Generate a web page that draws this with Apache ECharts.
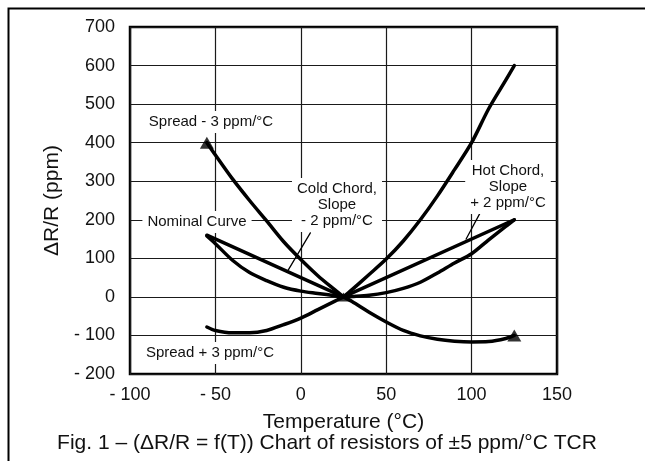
<!DOCTYPE html>
<html>
<head>
<meta charset="utf-8">
<script src="https://cdn.jsdelivr.net/npm/echarts@6/dist/echarts.min.js"></script>
<style>
  html, body { margin: 0; padding: 0; background: #fff; }
  #main { width: 645px; height: 461px; }
</style>
</head>
<body>
<div id="main"></div>
<script>
// temperatures (°C) for the cold / hot side of each curve
const tempCold = [-55, -50, -40, -30, -20, -10, 0, 10, 20, 25]
const tempHot = [25, 30, 40, 50, 60, 70, 80, 90, 100, 110, 120, 125]

// Spread - 3 ppm/°C (top left branch) and steep hot branch
const spreadMinusCold = [400, 368, 306, 250, 197, 143, 97, 55, 18, 0]
const spreadMinusHot = [0, 19, 58, 98, 145, 200, 262, 330, 400, 488, 562, 600]

// nominal curve
const nominalCold = [158, 138, 95, 63, 42, 25, 15, 9, 3, 0]
const nominalHot = [0, 1, 4, 11, 22, 38, 62, 88, 112, 148, 183, 200]

// Spread + 3 ppm/°C (bottom curve)
const spreadPlusCold = [-78, -87, -93, -93, -87, -72, -55, -33, -11, 0]
const spreadPlusHot = [0, -12, -40, -65, -87, -101, -110, -115, -117, -116, -108, -100]

// chords
const coldChordT = [-55, 25]
const coldChordV = [160, 0]
const hotChordT = [25, 125]
const hotChordV = [0, 200]

// leader lines of the chord labels
const coldLeaderT = [5.6, -7.3]
const coldLeaderV = [166, 70]
const hotLeaderT = [105, 96.8]
const hotLeaderV = [218, 150]

// end markers
const markerT = [-55, 125, 25]
const markerV = [400, -100, 0]

const xTicks = [-100, 150, 50]   // min, max, step
const yTicks = [-200, 700, 100]

const FONT = "'Liberation Sans', Arial, Helvetica, sans-serif"
const INK = '#111'

function pairs(xs, ys) {
  return xs.map((x, i) => [x, ys[i]])
}

function signLabel(v) {
  return v < 0 ? '- ' + Math.abs(v) : String(v)
}

function curve(name, xs, ys, width, smooth) {
  return {
    name: name,
    type: 'line',
    data: pairs(xs, ys),
    smooth: smooth,
    symbol: 'none',
    silent: true,
    z: 3,
    lineStyle: { color: '#000', width: width, cap: 'round', join: 'round' }
  }
}

function note(text, x, y) {
  return {
    type: 'text',
    x: x,
    y: y,
    z: 5,
    style: {
      text: text,
      font: '15px ' + FONT,
      fill: INK,
      align: 'center',
      verticalAlign: 'middle',
      lineHeight: 16,
      backgroundColor: '#fff',
      padding: [3, 5]
    }
  }
}

const myChart = echarts.init(document.getElementById('main'))

const option = {
  animation: false,
  backgroundColor: '#fff',
  grid: {
    left: 130,
    right: 88,
    top: 27,
    bottom: 87,
    show: true,
    borderColor: '#000',
    borderWidth: 2.5
  },
  xAxis: {
    type: 'value',
    min: xTicks[0],
    max: xTicks[1],
    interval: xTicks[2],
    name: 'Temperature (°C)',
    nameLocation: 'middle',
    nameGap: 38,
    nameTextStyle: { fontFamily: FONT, fontSize: 21, color: INK },
    axisLine: { show: false },
    axisTick: { show: false },
    axisLabel: {
      margin: 12,
      fontFamily: FONT,
      fontSize: 18,
      color: INK,
      formatter: signLabel
    },
    splitLine: { show: true, lineStyle: { color: '#1a1a1a', width: 1.2 } }
  },
  yAxis: {
    type: 'value',
    min: yTicks[0],
    max: yTicks[1],
    interval: yTicks[2],
    name: 'ΔR/R (ppm)',
    nameLocation: 'middle',
    nameGap: 56,
    nameTextStyle: { fontFamily: FONT, fontSize: 21, color: INK },
    axisLine: { show: false },
    axisTick: { show: false },
    axisLabel: {
      margin: 15,
      fontFamily: FONT,
      fontSize: 18,
      color: INK,
      formatter: signLabel
    },
    splitLine: { show: true, lineStyle: { color: '#1a1a1a', width: 1.2 } }
  },
  graphic: [
    {
      type: 'rect',
      shape: { x: 8.5, y: 8.5, width: 700, height: 500 },
      style: { fill: 'none', stroke: '#000', lineWidth: 2 },
      silent: true
    },
    note('Spread - 3 ppm/°C', 211, 122),
    note('Nominal Curve', 197, 222),
    note('Cold Chord,\nSlope\n- 2 ppm/°C', 337, 205),
    note('Hot Chord,\nSlope\n+ 2 ppm/°C', 508, 187),
    note('Spread + 3 ppm/°C', 210, 353),
    {
      type: 'text',
      x: 327,
      y: 443,
      style: {
        text: 'Fig. 1 – (ΔR/R = f(T)) Chart of resistors of ±5 ppm/°C TCR',
        font: '21px ' + FONT,
        fill: INK,
        align: 'center',
        verticalAlign: 'middle'
      }
    }
  ],
  series: [
    curve('Spread -3 cold', tempCold, spreadMinusCold, 3.5, 0.3),
    curve('Spread -3 hot', tempHot, spreadMinusHot, 3.5, 0.3),
    curve('Nominal cold', tempCold, nominalCold, 3.5, 0.3),
    curve('Nominal hot', tempHot, nominalHot, 3.5, 0.3),
    curve('Cold chord', coldChordT, coldChordV, 3.5, false),
    curve('Hot chord', hotChordT, hotChordV, 3.5, false),
    curve('Spread +3 cold', tempCold, spreadPlusCold, 3.5, 0.3),
    curve('Spread +3 hot', tempHot, spreadPlusHot, 3.5, 0.3),
    curve('Cold leader', coldLeaderT, coldLeaderV, 1.3, false),
    curve('Hot leader', hotLeaderT, hotLeaderV, 1.3, false),
    {
      type: 'scatter',
      silent: true,
      z: 4,
      symbol: 'triangle',
      symbolSize: (val, params) => (params.dataIndex === 2 ? [12, 9] : [14, 12]),
      itemStyle: { color: '#000' },
      data: pairs(markerT, markerV)
    }
  ]
}

myChart.setOption(option)
</script>
</body>
</html>
